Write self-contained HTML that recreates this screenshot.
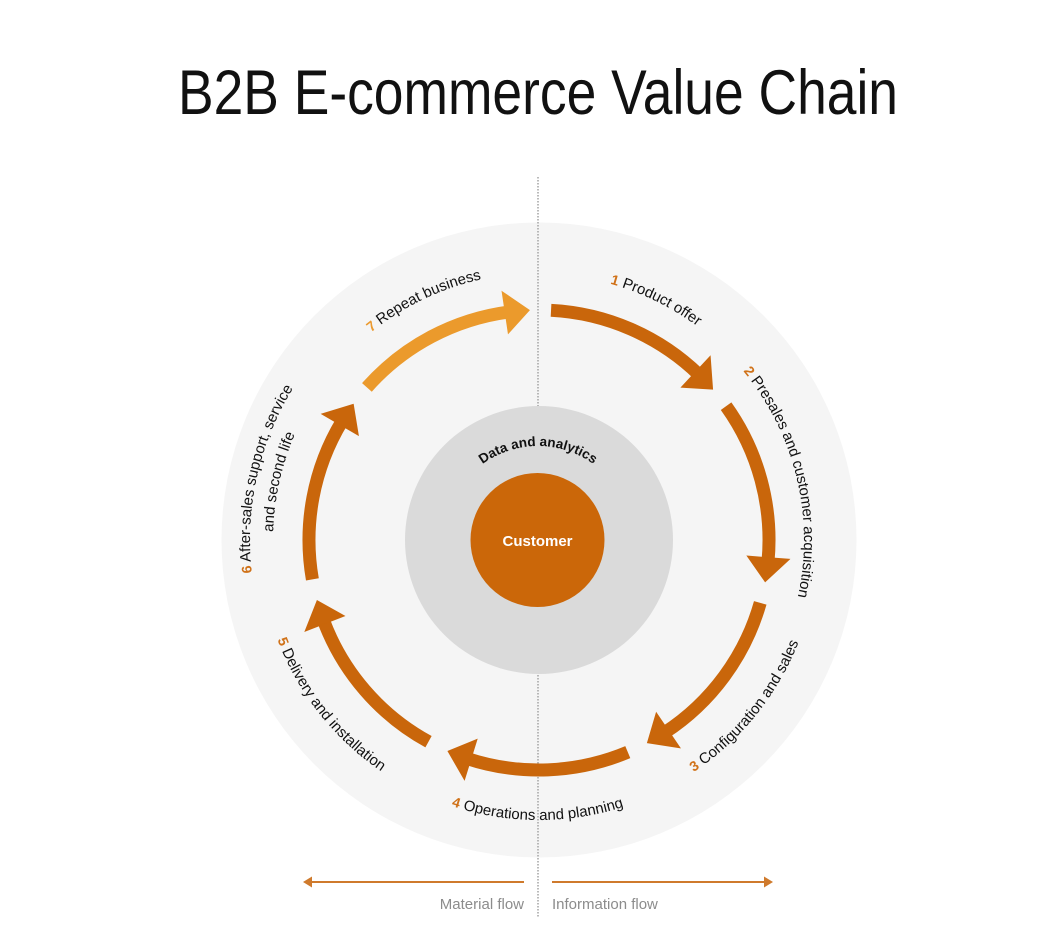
<!DOCTYPE html>
<html>
<head>
<meta charset="utf-8">
<style>
  html, body { margin:0; padding:0; background:#ffffff; }
  body { width:1064px; height:933px; overflow:hidden; }
  svg { display:block; }
  .lbl { font-family:"Liberation Sans", Arial, sans-serif; font-size:15px; fill:#111111; }
  .num { font-weight:bold; font-size:14px; fill:#d07219; }
</style>
</head>
<body>
<svg width="1064" height="933" viewBox="0 0 1064 933" xmlns="http://www.w3.org/2000/svg">
  <defs>
    <path id="t265" d="M 274 540 A 265 265 0 0 1 804 540"/>
    <path id="t266" d="M 273 540 A 266 266 0 0 1 805 540"/>
    <path id="t267" d="M 272 540 A 267 267 0 0 1 806 540"/>
    <path id="t289" d="M 250 540 A 289 289 0 0 1 828 540"/>
    <path id="b279" d="M 260 540 A 279 279 0 0 0 818 540"/>
    <path id="b280" d="M 259 540 A 280 280 0 0 0 819 540"/>
    <path id="d94" d="M 444 540 A 94 94 0 0 1 632 540"/>
    <g id="arw">
      <path d="M 539 310 A 230 230 0 0 1 689.9 366.4" fill="none" stroke-width="13"/>
      <polygon points="700.3,347.7 704.4,380.2 673.3,379.9"/>
    </g>
  </defs>

  <!-- Title -->
  <text x="178" y="114" font-family="Liberation Sans, Arial, sans-serif" font-size="63" fill="#111" textLength="720" lengthAdjust="spacingAndGlyphs">B2B E-commerce Value Chain</text>

  <!-- Big light circle -->
  <circle cx="539" cy="540" r="317.5" fill="#f5f5f5"/>

  <!-- Dotted divider -->
  <line x1="538" y1="177" x2="538" y2="918" stroke="#a3a3a3" stroke-width="1.5" stroke-dasharray="1.5 1.5"/>

  <!-- Inner circles -->
  <circle cx="539" cy="540" r="134" fill="#dadada"/>
  <circle cx="537.5" cy="540" r="67" fill="#cb6709"/>
  <text x="537.5" y="546" text-anchor="middle" font-family="Liberation Sans, Arial, sans-serif" font-weight="bold" font-size="15" fill="#ffffff">Customer</text>
  <text font-family="Liberation Sans, Arial, sans-serif" font-weight="bold" font-size="13.5" fill="#111"><textPath href="#d94" startOffset="50%" text-anchor="middle">Data and analytics</textPath></text>

  <!-- Arrows -->
  <g fill="#c9660b" stroke="#c9660b">
    <use href="#arw" transform="rotate(3 539 540)"/>
    <use href="#arw" transform="rotate(54.43 539 540)"/>
    <use href="#arw" transform="rotate(105.86 539 540)"/>
    <use href="#arw" transform="rotate(157.29 539 540)"/>
    <use href="#arw" transform="rotate(208.71 539 540)"/>
    <use href="#arw" transform="rotate(260.14 539 540)"/>
  </g>
  <g fill="#eb9a2c" stroke="#eb9a2c">
    <use href="#arw" transform="rotate(311.57 539 540)"/>
  </g>

  <!-- Labels -->
  <g transform="rotate(26 539 540)">
    <text class="lbl"><textPath href="#t266" startOffset="50%" text-anchor="middle"><tspan class="num">1</tspan> Product offer</textPath></text>
  </g>
  <g transform="rotate(76.4 539 540)">
    <text class="lbl"><textPath href="#t265" startOffset="50%" text-anchor="middle"><tspan class="num">2</tspan> Presales and customer acquisition</textPath></text>
  </g>
  <g transform="rotate(-51.1 539 540)">
    <text class="lbl"><textPath href="#b279" startOffset="50%" text-anchor="middle"><tspan class="num">3</tspan> Configuration and sales</textPath></text>
  </g>
  <g transform="rotate(0.3 539 540)">
    <text class="lbl"><textPath href="#b280" startOffset="50%" text-anchor="middle"><tspan class="num">4</tspan> Operations and planning</textPath></text>
  </g>
  <g transform="rotate(51.7 539 540)">
    <text class="lbl"><textPath href="#b280" startOffset="50%" text-anchor="middle"><tspan class="num">5</tspan> Delivery and installation</textPath></text>
  </g>
  <g transform="rotate(282.6 539 540)">
    <text class="lbl"><textPath href="#t289" startOffset="50%" text-anchor="middle"><tspan class="num">6</tspan> After-sales support, service</textPath></text>
    <text class="lbl"><textPath href="#t266" startOffset="50%" text-anchor="middle">and second life</textPath></text>
  </g>
  <g transform="rotate(334.3 539 540)">
    <text class="lbl"><textPath href="#t267" startOffset="50%" text-anchor="middle"><tspan class="num" style="fill:#eb9a30">7</tspan> Repeat business</textPath></text>
  </g>

  <!-- Flow arrows -->
  <line x1="524" y1="882" x2="310" y2="882" stroke="#cf7a2c" stroke-width="2"/>
  <polygon points="303,882 312,876.5 312,887.5" fill="#cf7a2c"/>
  <line x1="552" y1="882" x2="766" y2="882" stroke="#cf7a2c" stroke-width="2"/>
  <polygon points="773,882 764,876.5 764,887.5" fill="#cf7a2c"/>
  <text x="524" y="909" text-anchor="end" font-family="Liberation Sans, Arial, sans-serif" font-size="15" fill="#8c8c8c">Material flow</text>
  <text x="552" y="909" font-family="Liberation Sans, Arial, sans-serif" font-size="15" fill="#8c8c8c">Information flow</text>
</svg>
</body>
</html>
